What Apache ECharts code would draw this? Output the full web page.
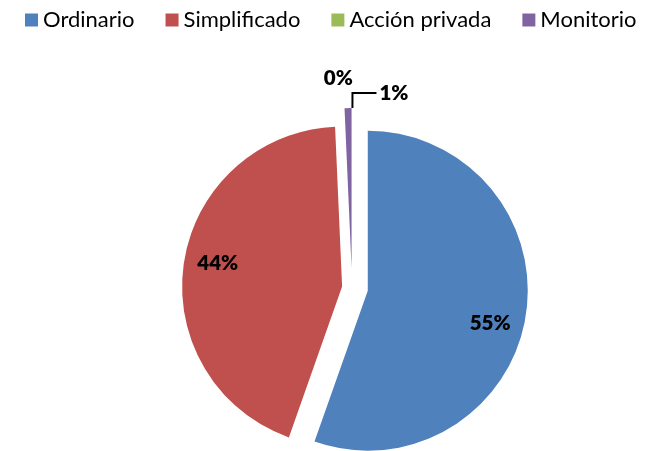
<!DOCTYPE html>
<html>
<head>
<meta charset="utf-8">
<script src="https://cdn.jsdelivr.net/npm/echarts@6/dist/echarts.min.js"></script>
<style>
  html, body { margin: 0; padding: 0; background: #fff; }
  #chart { width: 649px; height: 451px; }
</style>
</head>
<body>
<div id="chart"></div>
<script>
// datos del gráfico
const names = ['Ordinario', 'Simplificado', 'Acción privada', 'Monitorio'];
const values = [55.4, 43.9, 0, 0.7];
const colors = ['#4F81BD', '#C0504D', '#9BBB59', '#8064A2'];
// separación de cada porción (px)
const explode = [16, 10, 0, 20];

const font = 'Lato';
const labelText = {
  show: true,
  formatter: '{d}%',
  fontFamily: font,
  fontWeight: 800,
  fontSize: 20.5,
  color: '#000'
};

// una capa por porción: solo la porción idx se ve, con su propia separación
function layer(idx, o) {
  return {
    type: 'pie',
    center: [352, 288],
    radius: o.radius || 160,
    startAngle: o.startAngle || 90,
    clockwise: true,
    selectedMode: 'multiple',
    selectedOffset: explode[idx],
    avoidLabelOverlap: false,
    percentPrecision: 0,
    silent: true,
    animation: false,
    emphasis: {disabled: true},
    select: {itemStyle: {borderWidth: 0}},
    label: {show: false},
    labelLine: {show: false},
    data: names.map((name, i) => ({
      name: name,
      value: values[i],
      selected: i === idx,
      itemStyle: {
        color: (i === idx && o.fill) ? colors[i] : 'rgba(0,0,0,0)',
        borderWidth: 0
      },
      label: (i === idx && o.label) ? o.label : {show: false},
      labelLine: (i === idx && o.labelLine) ? o.labelLine : {show: false}
    }))
  };
}

const chart = echarts.init(document.getElementById('chart'));
chart.setOption({
  animation: false,
  legend: {
    left: 20,
    top: 4,
    icon: 'rect',
    itemWidth: 13,
    itemHeight: 13,
    itemGap: 31,
    selectedMode: false,
    textStyle: {fontFamily: font, fontSize: 22, color: '#000'},
    data: names.map((n, i) => ({name: n, itemStyle: {color: colors[i]}}))
  },
  series: [
    layer(0, {fill: true}),
    layer(1, {fill: true}),
    layer(3, {fill: true}),
    // etiquetas internas
    layer(0, {radius: [87, 160], startAngle: 85.5, label: Object.assign({position: 'inside'}, labelText)}),
    layer(1, {radius: [87, 160], startAngle: 88, label: Object.assign({position: 'inside'}, labelText)}),
    // etiquetas externas
    layer(2, {
      label: Object.assign({position: 'outside'}, labelText),
      labelLine: {show: false, length: 50, length2: -15}
    }),
    layer(3, {
      startAngle: 88.6,
      label: Object.assign({position: 'outside', distanceToLabelLine: 3, padding: [0, 0, 10, 0]}, labelText),
      labelLine: {show: true, length: 15, length2: 24, lineStyle: {color: '#000', width: 2}}
    })
  ]
});
</script>
</body>
</html>
